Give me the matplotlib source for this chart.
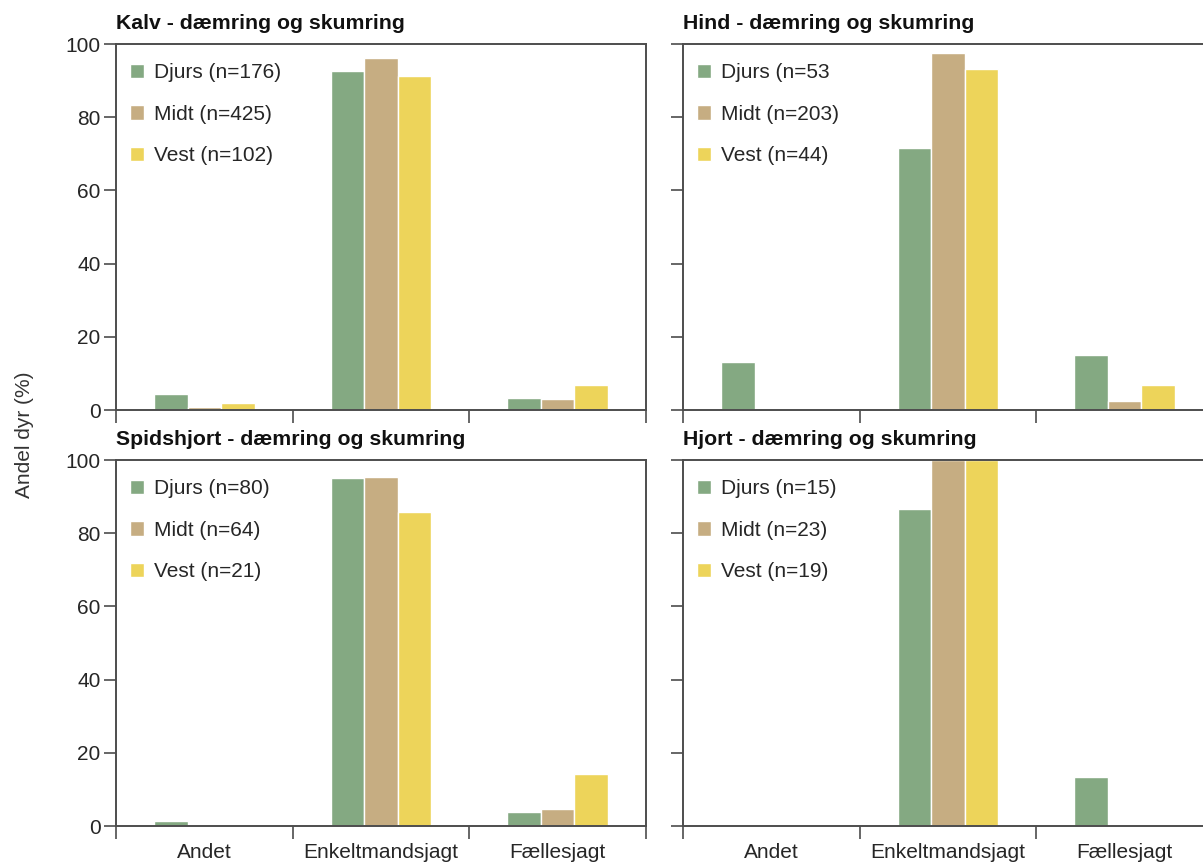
import matplotlib
matplotlib.use("Agg")
import matplotlib.pyplot as plt
import numpy as np

plt.rcParams['font.family'] = ['Liberation Sans', 'DejaVu Sans']

categories = ["Andet", "Enkeltmandsjagt", "Fællesjagt"]
regions = ["Djurs", "Midt", "Vest"]
colors = ["#84A982", "#C6AD82", "#EDD45A"]

titles = ["Kalv - dæmring og skumring", "Hind - dæmring og skumring",
          "Spidshjort - dæmring og skumring", "Hjort - dæmring og skumring"]

legend_labels = [
    ["Djurs (n=176)", "Midt (n=425)", "Vest (n=102)"],
    ["Djurs (n=53", "Midt (n=203)", "Vest (n=44)"],
    ["Djurs (n=80)", "Midt (n=64)", "Vest (n=21)"],
    ["Djurs (n=15)", "Midt (n=23)", "Vest (n=19)"],
]

# values per panel: rows = region (Djurs, Midt, Vest), cols = category
kalv = [[4.4, 92.6, 3.2],
        [0.7, 96.2, 3.1],
        [2.0, 91.2, 6.9]]
hind = [[13.2, 71.7, 15.1],
        [0.0, 97.5, 2.5],
        [0.0, 93.2, 6.8]]
spidshjort = [[1.25, 95.0, 3.75],
              [0.0, 95.3, 4.7],
              [0.0, 85.7, 14.3]]
hjort = [[0.0, 86.7, 13.3],
         [0.0, 100.0, 0.0],
         [0.0, 100.0, 0.0]]
panels = [kalv, hind, spidshjort, hjort]

yticks = [0, 20, 40, 60, 80, 100]

W, H = 1203, 863
fig = plt.figure(figsize=(W / 100, H / 100), dpi=100)

# axes boxes in pixels: (left, top, right, bottom)
boxes = [(116, 44, 646, 410), (683, 44, 1213, 410),
         (116, 460, 646, 826), (683, 460, 1213, 826)]

spine_color = "#4d4d4d"
text_color = "#262626"
fs = 15

bar_w = 0.19
x = np.arange(len(categories)) + 0.5

for i, (vals, box) in enumerate(zip(panels, boxes)):
    l, t, r, b = box
    ax = fig.add_axes([l / W, (H - b) / H, (r - l) / W, (b - t) / H])
    for j, reg in enumerate(regions):
        ax.bar(x + (j - 1) * bar_w, vals[j], width=bar_w, color=colors[j],
               edgecolor="white", linewidth=1.0, label=legend_labels[i][j])
    ax.set_xlim(0, 3)
    ax.set_ylim(0, 100)
    for s in ax.spines.values():
        s.set_color(spine_color)
        s.set_linewidth(1.4)
    ax.set_yticks(yticks)
    if i % 2 == 0:
        ax.set_yticklabels([str(v) for v in yticks], fontsize=fs, color=text_color)
    else:
        ax.set_yticklabels([])
    ax.tick_params(axis="y", direction="out", length=9, width=1.2,
                   color=spine_color, pad=2)
    ax.set_xticks([0, 1, 2, 3])
    ax.set_xticklabels([])
    ax.tick_params(axis="x", which="major", direction="out", length=9,
                   width=1.2, color=spine_color)
    ax.set_xticks(x, minor=True)
    if i >= 2:
        ax.set_xticklabels(categories, minor=True, fontsize=fs, color=text_color)
    else:
        ax.set_xticklabels([], minor=True)
    ax.tick_params(axis="x", which="minor", length=0, pad=12)
    ax.text(0, 1.056, titles[i], transform=ax.transAxes, ha="left", va="center",
            fontsize=15.3, fontweight="bold", color="#111111")
    leg = ax.legend(loc="upper left", bbox_to_anchor=(14 / 530, 1 - 19 / 366),
                    frameon=False, fontsize=fs, handlelength=0.68,
                    handleheight=0.68, handletextpad=0.45, labelspacing=1.09,
                    borderpad=0, borderaxespad=0)
    for txt in leg.get_texts():
        txt.set_color(text_color)

fig.text(24 / W, 1 - 435 / H, "Andel dyr (%)", rotation=90, ha="center",
         va="center", fontsize=fs, color="#333333")

fig.savefig("out.png", dpi=100)
